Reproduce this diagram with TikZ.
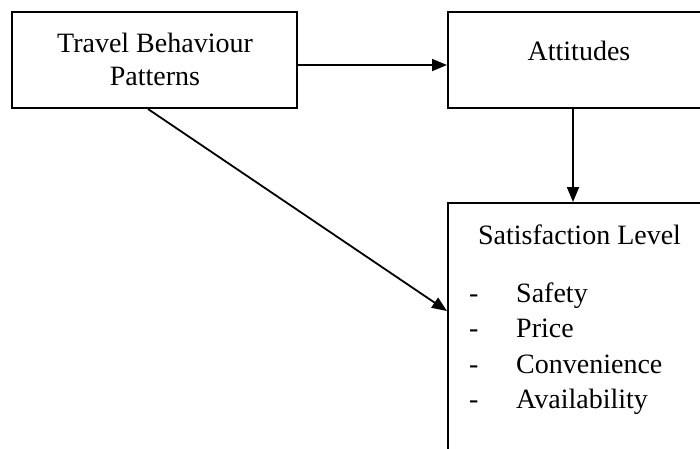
\documentclass[tikz,border=0pt]{standalone}
\usepackage{fontspec}
\setmainfont{Liberation Serif}
\usetikzlibrary{arrows.meta,calc}
\begin{document}
\begin{tikzpicture}[x=1pt,y=-1pt,
  box/.style={draw=black,line width=2pt,rectangle,inner sep=0pt},
  txt/.style={inner sep=0pt,font=\fontsize{28}{34}\selectfont,anchor=base},
  itm/.style={inner sep=0pt,font=\fontsize{28}{34}\selectfont,anchor=base west},
  arr/.style={line width=1.8pt,-{Triangle[length=15pt,width=12pt]}}]
\useasboundingbox (0,0) rectangle (700,448);
\clip (0,0) rectangle (700,448);
\fill[white] (0,0) rectangle (700,448);
\node[box,minimum width=285pt,minimum height=96pt] (b1) at (154.5,60) {};
\node[box,minimum width=262pt,minimum height=96pt] (b2) at (579,60) {};
\node[box,minimum width=262pt,minimum height=300pt] (b3) at (579,353) {};
\node[txt] (t1a) at (155,52) {Travel Behaviour};
\node[txt] (t1b) at (155,85) {Patterns};
\node[txt] (t2) at (579,60) {Attitudes};
\node[txt] (t3) at (579.5,244) {Satisfaction Level};
\node[itm] (d1) at (469,302) {-};
\node[itm] (d2) at (469,337) {-};
\node[itm] (d3) at (469,373) {-};
\node[itm] (d4) at (469,408) {-};
\node[itm] (i1) at (516,302) {Safety};
\node[itm] (i2) at (516,337) {Price};
\node[itm] (i3) at (516,373) {Convenience};
\node[itm] (i4) at (516,408) {Availability};
\draw[arr] ([yshift=-5pt]b1.east) -- ([yshift=-5pt]b1.east -| b2.west);
\draw[arr] ([xshift=-6pt]b2.south) -- ([xshift=-6pt]b2.south |- b3.north);
\draw[arr] ([xshift=-6.5pt]b1.south) -- ([yshift=-109pt]b3.north west);
\end{tikzpicture}
\end{document}
